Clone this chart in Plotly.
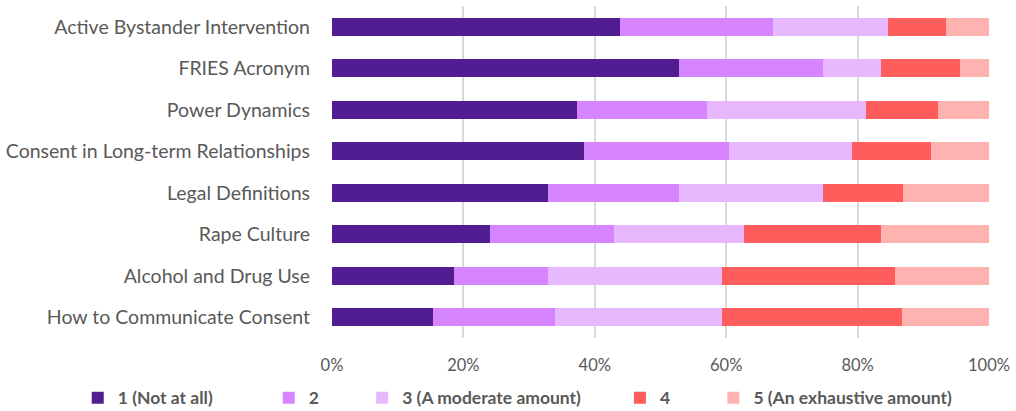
import plotly.graph_objects as go

categories = [
    "Active Bystander Intervention",
    "FRIES Acronym",
    "Power Dynamics",
    "Consent in Long-term Relationships",
    "Legal Definitions",
    "Rape Culture",
    "Alcohol and Drug Use",
    "How to Communicate Consent",
]
series_names = ["1 (Not at all)", "2", "3 (A moderate amount)", "4", "5 (An exhaustive amount)"]
s1 = [43.9, 52.8, 37.3, 38.4, 32.9, 24.1, 18.6, 15.4]
s2 = [23.2, 21.9, 19.8, 22.0, 19.9, 18.8, 14.3, 18.6]
s3 = [17.5, 8.9, 24.2, 18.8, 21.9, 19.8, 26.5, 25.4]
s4 = [8.8, 12.0, 11.0, 12.0, 12.2, 20.9, 26.3, 27.3]
s5 = [6.6, 4.4, 7.7, 8.8, 13.1, 16.4, 14.3, 13.3]
colors = ["#521C92", "#D784FF", "#E8B8FF", "#FF5C5C", "#FFB3B0"]
tick_vals = [0, 20, 40, 60, 80, 100]
tick_text = ["0%", "20%", "40%", "60%", "80%", "100%"]

# trailing non-breaking spaces widen legend entries to match the reference spacing
legend_pad = [12, 9, 8, 9, 0]

fig = go.Figure()
for name, vals, col, pad in zip(series_names, [s1, s2, s3, s4, s5], colors, legend_pad):
    fig.add_trace(go.Bar(
        y=categories, x=vals, name=name + "\u00a0" * pad, orientation="h",
        marker=dict(color=col, line=dict(width=0)),
    ))

fig.update_layout(
    barmode="stack",
    barnorm="percent",
    bargap=0.57,
    width=1016, height=411,
    margin=dict(l=332, r=27, t=6, b=73, autoexpand=False),
    paper_bgcolor="white", plot_bgcolor="white",
    font=dict(family="Lato", size=18, color="#595959"),
    showlegend=True,
    legend=dict(
        orientation="h", xref="paper", yref="paper",
        x=-0.387, xanchor="left", y=-0.18, yanchor="middle",
        font=dict(family="Lato", size=17.5, color="#595959", weight="bold"),
        traceorder="normal", itemwidth=30,
    ),
    xaxis=dict(
        range=[0, 100], tickvals=tick_vals, ticktext=tick_text,
        showgrid=True, gridcolor="#D9D9D9", gridwidth=1.5,
        zeroline=False, showline=False,
        ticklabelstandoff=15,
        tickfont=dict(family="Lato", size=16.5, color="#595959"),
    ),
    yaxis=dict(
        autorange="reversed", categoryorder="array", categoryarray=categories,
        showgrid=False, showline=False, ticks="",
        ticklabelstandoff=21,
        tickfont=dict(family="Lato", size=19.5, color="#595959"),
    ),
)
fig.write_html("out.html")
